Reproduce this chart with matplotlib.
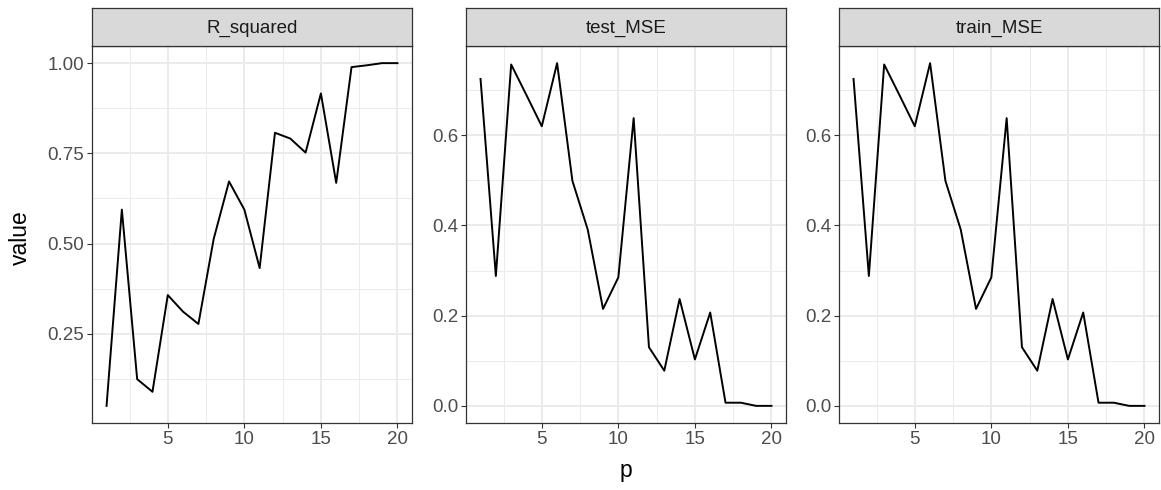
import numpy as np
import matplotlib.pyplot as plt

plt.rcParams['font.family'] = ['Liberation Sans', 'DejaVu Sans']

# data
p = list(range(1, 21))
r_squared = [0.050, 0.594, 0.124, 0.089, 0.357, 0.311, 0.277, 0.513, 0.672, 0.594,
             0.432, 0.807, 0.791, 0.752, 0.916, 0.668, 0.989, 0.994, 1.000, 1.000]
test_mse = [0.725, 0.288, 0.757, 0.689, 0.620, 0.760, 0.499, 0.391, 0.215, 0.285,
            0.638, 0.130, 0.078, 0.237, 0.103, 0.207, 0.007, 0.007, 0.000, 0.000]
train_mse = [0.725, 0.288, 0.757, 0.689, 0.620, 0.760, 0.499, 0.391, 0.215, 0.285,
             0.638, 0.130, 0.078, 0.237, 0.103, 0.207, 0.007, 0.007, 0.000, 0.000]

panels = ['R_squared', 'test_MSE', 'train_MSE']
series = [r_squared, test_mse, train_mse]
y_major = [[0.25, 0.50, 0.75, 1.00], [0.0, 0.2, 0.4, 0.6], [0.0, 0.2, 0.4, 0.6]]
y_minor = [[0.125, 0.375, 0.625, 0.875], [0.1, 0.3, 0.5, 0.7], [0.1, 0.3, 0.5, 0.7]]
y_fmt = ['{:.2f}', '{:.1f}', '{:.1f}']
x_major = [5, 10, 15, 20]
x_minor = [2.5, 7.5, 12.5, 17.5]

W, H = 1161, 490
fig = plt.figure(figsize=(W / 100, H / 100), dpi=100)

lefts = [92, 466, 839]
pw = 320
ptop, pbot = 46, 423
stop = 8

border = '#333333'
for i in range(3):
    ax = fig.add_axes([lefts[i] / W, (H - pbot) / H, pw / W, (pbot - ptop) / H])
    vals = series[i]
    lo, hi = min(vals), max(vals)
    pad = (hi - lo) * 0.05
    ax.set_ylim(lo - pad, hi + pad)
    ax.set_xlim(1 - 19 * 0.05, 20 + 19 * 0.05)

    for v in x_minor:
        ax.axvline(v, color='#EBEBEB', lw=0.7, zorder=0)
    for v in y_minor[i]:
        ax.axhline(v, color='#EBEBEB', lw=0.7, zorder=0)
    for v in x_major:
        ax.axvline(v, color='#EBEBEB', lw=1.4, zorder=0)
    for v in y_major[i]:
        ax.axhline(v, color='#EBEBEB', lw=1.4, zorder=0)

    ax.plot(p, vals, color='black', lw=1.4, zorder=3)

    ax.set_xticks(x_major)
    ax.set_yticks(y_major[i])
    ax.set_yticklabels([y_fmt[i].format(v) for v in y_major[i]])
    ax.tick_params(colors=border, labelcolor='#4D4D4D', labelsize=13.5, length=3.5,
                   width=0.8, pad=2)
    for s in ax.spines.values():
        s.set_color(border)
        s.set_linewidth(0.9)

    sax = fig.add_axes([lefts[i] / W, (H - ptop) / H, pw / W, (ptop - stop) / H])
    sax.set_facecolor('#D9D9D9')
    sax.set_xticks([])
    sax.set_yticks([])
    for s in sax.spines.values():
        s.set_color(border)
        s.set_linewidth(0.9)
    sax.text(0.5, 0.45, panels[i], ha='center', va='center', fontsize=13.5,
             color='#1A1A1A', transform=sax.transAxes)

fig.text(626 / W, 1 - 470 / H, 'p', ha='center', va='center', fontsize=16.5)
fig.text(20 / W, 1 - 238 / H, 'value', ha='center', va='center', fontsize=16.5,
         rotation=90)

fig.savefig('out.png', dpi=100)
